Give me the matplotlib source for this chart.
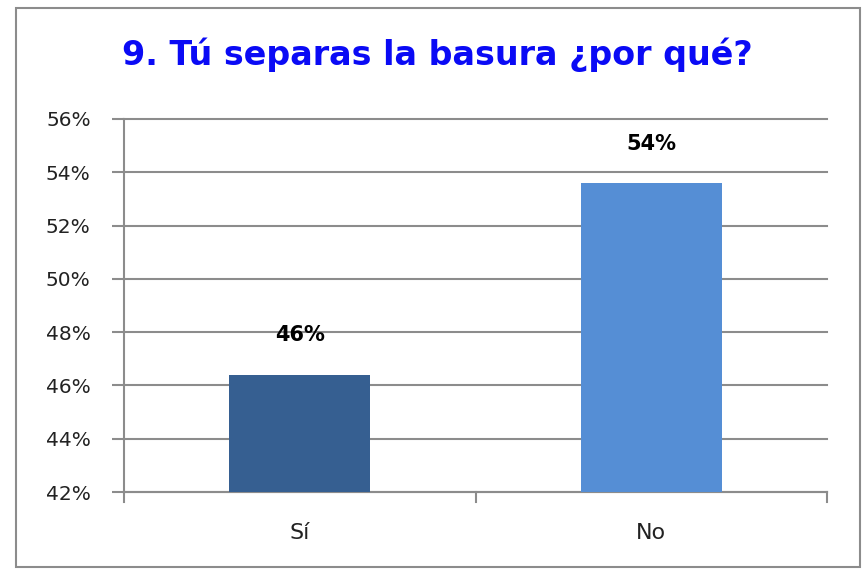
import matplotlib.pyplot as plt
from matplotlib.patches import Rectangle

# data
categories = ['Sí', 'No']
values = [46.4, 53.6]
labels = ['46%', '54%']
bar_colors = ['#365F91', '#558ED5']
y_ticks = [42, 44, 46, 48, 50, 52, 54, 56]

fig = plt.figure(figsize=(8.65, 5.72), dpi=100)
ax = fig.add_axes([124 / 865, 1 - 492 / 572, (827 - 124) / 865, (492 - 119) / 572])

# outer frame
fig.patches.append(Rectangle((16 / 865, 1 - 567 / 572), (860 - 16) / 865, (567 - 8) / 572,
                             transform=fig.transFigure, fill=False,
                             edgecolor='#8c8c8c', linewidth=1.5))

x = range(len(categories))
bars = ax.bar(x, values, width=0.40, color=bar_colors, zorder=3)

for b, lab in zip(bars, labels):
    ax.text(b.get_x() + b.get_width() / 2, b.get_height() + 1.1, lab,
            ha='center', va='bottom', fontsize=15, fontweight='bold', color='black')

ax.set_xlim(-0.5, 1.5)
ax.set_ylim(42, 56)
ax.set_yticks(y_ticks)
ax.set_yticklabels([f'{t}%' for t in y_ticks], fontsize=14.5, color='#222222')
ax.set_xticks(x)
ax.set_xticklabels(categories, fontsize=16, color='#222222')
ax.tick_params(axis='x', length=0, pad=22)
ax.tick_params(axis='y', length=9, color='#8c8c8c', width=1.5, pad=15)

# category separator ticks on the x axis
for xt in [-0.5, 0.5, 1.5]:
    ax.plot([xt, xt], [0, -0.028], transform=ax.get_xaxis_transform(),
            color='#8c8c8c', linewidth=1.5, clip_on=False)

ax.grid(axis='y', color='#8c8c8c', linewidth=1.5, zorder=0)
for gl in ax.get_ygridlines():
    gl.set_clip_on(False)
for s in ['top', 'right']:
    ax.spines[s].set_visible(False)
for s in ['left', 'bottom']:
    ax.spines[s].set_color('#8c8c8c')
    ax.spines[s].set_linewidth(1.5)

fig.text(437 / 865, 1 - 55 / 572, '9. Tú separas la basura ¿por qué?',
         ha='center', va='center', fontsize=24, fontweight='bold', color='#0A0AF5')

fig.savefig('out.png', dpi=100)
